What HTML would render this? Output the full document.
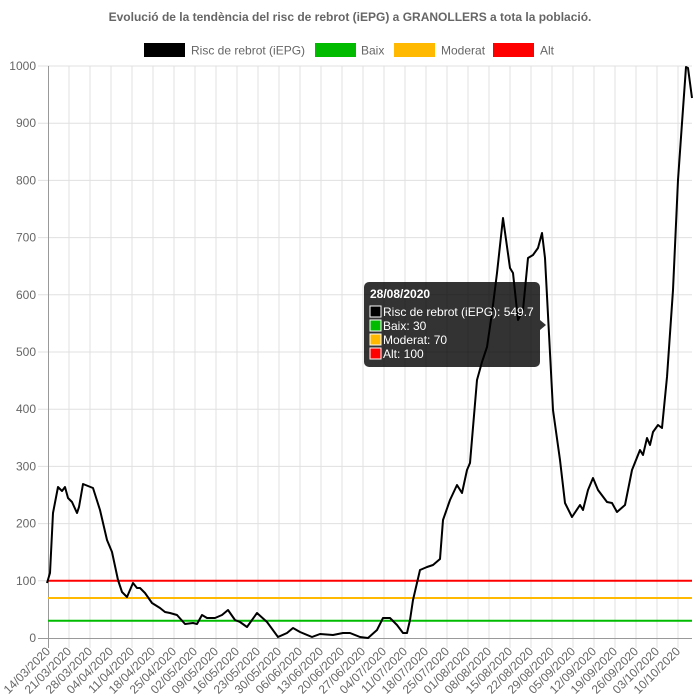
<!DOCTYPE html>
<html><head><meta charset="utf-8"><style>
html,body{margin:0;padding:0;background:#fff;width:700px;height:700px;overflow:hidden}
svg text{font-family:"Liberation Sans",Arial,sans-serif}
</style></head><body>
<svg width="700" height="700" viewBox="0 0 700 700" xmlns="http://www.w3.org/2000/svg">
<text x="350" y="21" text-anchor="middle" font-size="12" font-weight="bold" fill="#666">Evolució de la tendència del risc de rebrot (iEPG) a GRANOLLERS a tota la població.</text>
<rect x="144" y="43" width="41" height="14" fill="#000"/>
<text x="191" y="54.5" font-size="12" fill="#666">Risc de rebrot (iEPG)</text>
<rect x="315" y="43" width="41" height="14" fill="#00bb00"/>
<text x="361" y="54.5" font-size="12" fill="#666">Baix</text>
<rect x="394" y="43" width="41" height="14" fill="#ffb900"/>
<text x="441" y="54.5" font-size="12" fill="#666">Moderat</text>
<rect x="493" y="43" width="41" height="14" fill="#ff0000"/>
<text x="540" y="54.5" font-size="12" fill="#666">Alt</text>
<g id="grid" stroke="#e0e0e0" stroke-width="1"></g>
<g id="xl" font-size="12" fill="#666"></g>
<g id="yl" font-size="12" fill="#666" text-anchor="end"></g>
<line x1="48.5" y1="66" x2="48.5" y2="648" stroke="#999"/>
<line x1="38" y1="638.5" x2="692" y2="638.5" stroke="#999"/>
<line x1="48" y1="580.8" x2="692" y2="580.8" stroke="#ff0000" stroke-width="2"/>
<line x1="48" y1="598" x2="692" y2="598" stroke="#ffb900" stroke-width="2"/>
<line x1="48" y1="620.8" x2="692" y2="620.8" stroke="#00bb00" stroke-width="2"/>
<polyline fill="none" stroke="#000" stroke-width="2" stroke-linejoin="round" points="47,583 50,573 53,513 58,487 62,491 65,487 68,498 72,502 77,513 79,507 83,484 88,486 93,488 100,510 107,540 112,552 118,580 122,592 127,597 133,583 137,588 140,588 145,593 152,603 160,608 165,612 170,613 177,615 185,624 193,623 197,624 202,615 207,618 215,618 222,615 228,610 235,620 240,622 247,627 257,613 267,622 278,637 287,633 293,628 300,632 312,637 320,634 333,635 343,633 350,633 360,637 368,638 377,630 383,618 390,618 397,625 403,633 407,633 410,620 413,600 420,570 427,567 433,565 440,559 443,520 450,500 457,485 462,493 467,470 470,463 477,380 482,362 487,347 492,313 497,273 503,218 510,268 513,273 518,320 523,310 528,258 533,255 538,248 542,233 545,258 553,410 560,460 565,503 572,517 580,505 583,510 588,490 593,478 598,490 607,502 612,503 617,512 625,505 632,470 640,450 643,455 647,438 650,445 653,432 658,425 662,428 667,377 673,290 678,180 682,123 686,67 688,68 692,98"/>
<path d="M369,282 H535 a5,5 0 0 1 5,5 V320 l6,5 l-6,5 V362 a5,5 0 0 1 -5,5 H369 a5,5 0 0 1 -5,-5 V287 a5,5 0 0 1 5,-5 Z" fill="#000" fill-opacity="0.8"/>
<text x="370" y="298" font-size="12" font-weight="bold" fill="#fff">28/08/2020</text>
<rect x="370" y="306" width="11" height="11" fill="#000" stroke="#fff"/>
<text x="383" y="316" font-size="12" fill="#fff">Risc de rebrot (iEPG): 549.7</text>
<rect x="370" y="320" width="11" height="11" fill="#00bb00" stroke="#fff"/>
<text x="383" y="330" font-size="12" fill="#fff">Baix: 30</text>
<rect x="370" y="334" width="11" height="11" fill="#ffb900" stroke="#fff"/>
<text x="383" y="344" font-size="12" fill="#fff">Moderat: 70</text>
<rect x="370" y="348" width="11" height="11" fill="#ff0000" stroke="#fff"/>
<text x="383" y="358" font-size="12" fill="#fff">Alt: 100</text>
</svg>
<script>
var ns="http://www.w3.org/2000/svg";
var g=document.getElementById('grid'),xl=document.getElementById('xl'),yl=document.getElementById('yl');
function el(t,a,p,txt){var e=document.createElementNS(ns,t);for(var k in a)e.setAttribute(k,a[k]);if(txt)e.textContent=txt;p.appendChild(e);}
for(var k=1;k<=10;k++){var y=638-57.2*k;el('line',{x1:38,y1:y,x2:692,y2:y},g);}
for(var k=0;k<=10;k++){var y=638-57.2*k;el('text',{x:36,y:y+4},yl,String(k*100));}
var d0=new Date(2020,2,14);
for(var w=0;w<=30;w++){var x=48+21*w;if(w>0)el('line',{x1:x,y1:66,x2:x,y2:648},g);
var d=new Date(d0.getTime()+w*7*86400000+3600000*12);
var s=('0'+d.getDate()).slice(-2)+'/'+('0'+(d.getMonth()+1)).slice(-2)+'/2020';
el('text',{x:x+3,y:652,'text-anchor':'end',transform:'rotate(-45 '+(x+3)+' 652)'},xl,s);}
</script>
</body></html>
